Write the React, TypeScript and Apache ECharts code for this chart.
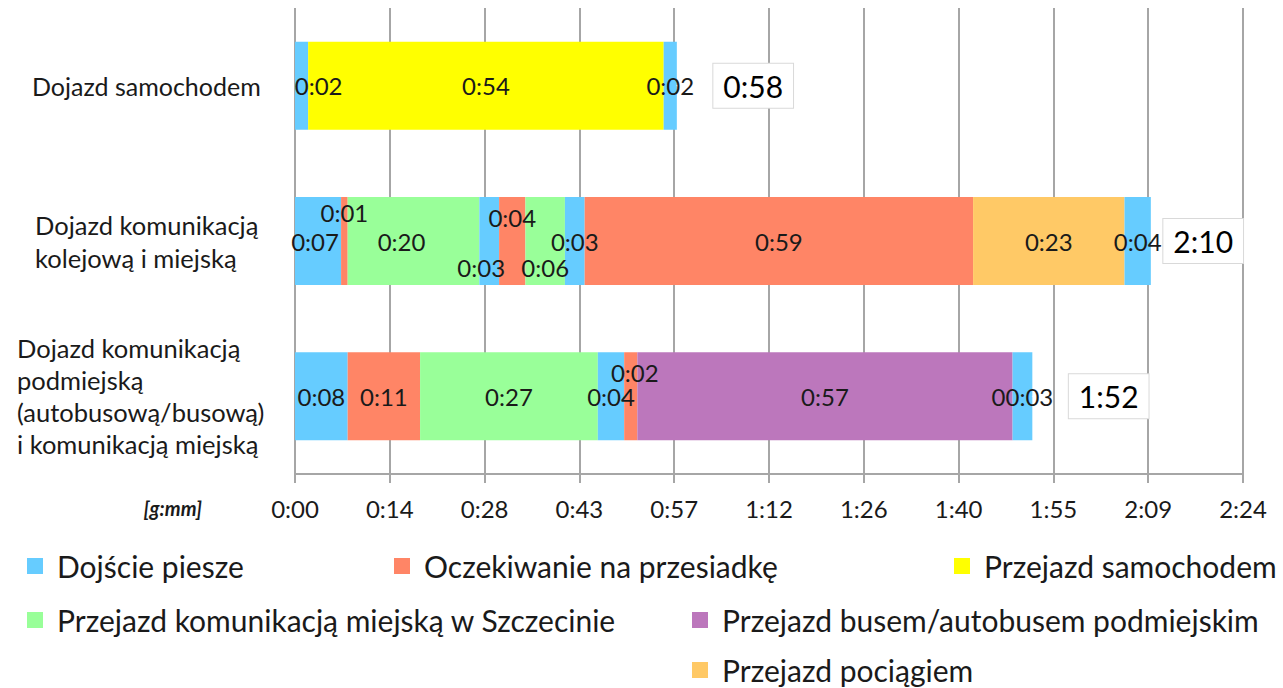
import React, { useEffect, useRef } from "react";
import * as echarts from "echarts";

// ---- data ----
const categories = [
  "Dojazd samochodem",
  "Dojazd komunikacją\nkolejową i miejską",
  "Dojazd komunikacją\npodmiejską\n(autobusową/busową)\ni komunikacją miejską",
];

const modeNames = [
  "Dojście piesze",
  "Oczekiwanie na przesiadkę",
  "Przejazd samochodem",
  "Przejazd komunikacją miejską w Szczecinie",
  "Przejazd busem/autobusem podmiejskim",
  "Przejazd pociągiem",
];

// segment mode indexes and minutes, per row
const carModes = [0, 2, 0];
const carMinutes = [2, 54, 2];
const railModes = [0, 1, 3, 0, 1, 3, 0, 1, 5, 0];
const railMinutes = [7, 1, 20, 3, 4, 6, 3, 59, 23, 4];
const suburbanModes = [0, 1, 3, 0, 1, 4, 0];
const suburbanMinutes = [8, 11, 27, 4, 2, 57, 3];
// label text that differs from the plain h:mm format (row, segment)
const labelOverrides: Record<string, string> = { "2-6": "00:03" };

const axisMax = 144; // 2:24
const axisInterval = 14.4;
const axisUnit = "[g:mm]";

// ---- styles ----
const modeColors = ["#66CCFF", "#FF8566", "#FFFF00", "#99FF99", "#BC77BC", "#FFC966"];
const carLabelOffsets = [[17, 0], [0, 0], [0, 0]];
const railLabelOffsets = [[-3, 0], [0, -29], [-12, 0], [-8, 26], [0, -24], [0, 26], [0, 0], [0, 0], [0, 0], [0, 0]];
const suburbanLabelOffsets = [[0, 0], [0, 0], [0, 0], [0, 0], [4, -24], [0, 0], [0, 0]];
const totalDistances = [36, 12, 36];

const FONT = "Lato";
const TEXT = "#1a1a1a";
const GRID = "#a6a6a6";

function fmt(v: number): string {
  const m = Math.floor(v + 1e-6);
  return `${Math.floor(m / 60)}:${String(m % 60).padStart(2, "0")}`;
}

export default function App() {
  const ref = useRef<HTMLDivElement>(null);

  useEffect(() => {
    if (!ref.current) return;
    const chart = echarts.init(ref.current, null, { renderer: "svg" });

    const rows = [
      { modes: carModes, mins: carMinutes, offs: carLabelOffsets },
      { modes: railModes, mins: railMinutes, offs: railLabelOffsets },
      { modes: suburbanModes, mins: suburbanMinutes, offs: suburbanLabelOffsets },
    ];

    const series: any[] = [];
    rows.forEach((row, r) => {
      row.modes.forEach((mode, k) => {
        const val = row.mins[k];
        const override = labelOverrides[`${r}-${k}`];
        series.push({
          type: "bar",
          stack: "total",
          name: modeNames[mode],
          barWidth: 88,
          itemStyle: { color: modeColors[mode] },
          data: categories.map((_, j) => (j === r ? val : "-")),
          label: {
            show: true,
            position: "inside",
            offset: row.offs[k],
            formatter: () => override ?? fmt(val),
            fontFamily: FONT,
            fontSize: 24,
            color: TEXT,
          },
          emphasis: { disabled: true },
        });
      });
    });

    const totals = rows.map((row) => row.mins.reduce((a, b) => a + b, 0));
    series.push({
      type: "scatter",
      name: "Suma",
      symbolSize: 1,
      itemStyle: { color: "#ffffff" },
      data: totals.map((t, r) => ({
        value: [t, r],
        label: { distance: totalDistances[r] },
      })),
      label: {
        show: true,
        position: "right",
        formatter: (p: any) => fmt(p.value[0]),
        fontFamily: FONT,
        fontSize: 30,
        lineHeight: 32,
        color: "#000000",
        opacity: 1,
        backgroundColor: "#fff",
        borderColor: "#d9d9d9",
        borderWidth: 1,
        padding: [6, 10, 6, 10],
      },
      emphasis: { disabled: true },
      z: 5,
    });

    const legendPos = [
      { name: modeNames[0], left: 27, top: 551 },
      { name: modeNames[1], left: 394, top: 551 },
      { name: modeNames[2], left: 954, top: 551 },
      { name: modeNames[3], left: 27, top: 605 },
      { name: modeNames[4], left: 692, top: 605 },
      { name: modeNames[5], left: 692, top: 655 },
    ];

    chart.setOption({
      animation: false,
      grid: { left: 295, right: 40, top: 8, bottom: 214, containLabel: false },
      xAxis: {
        type: "value",
        min: 0,
        max: axisMax,
        interval: axisInterval,
        axisLabel: {
          formatter: (v: number) => fmt(v),
          fontFamily: FONT,
          fontSize: 24,
          color: TEXT,
          margin: 22,
          showMaxLabel: true,
          showMinLabel: true,
        },
        axisLine: { show: true, lineStyle: { color: GRID, width: 2 } },
        axisTick: { show: true, length: 9, lineStyle: { color: GRID, width: 2 } },
        splitLine: { show: true, lineStyle: { color: GRID, width: 2 } },
      },
      yAxis: {
        type: "category",
        data: categories,
        inverse: true,
        axisLine: { show: false },
        axisTick: { show: false },
        splitLine: { show: false },
        axisLabel: {
          align: "left",
          margin: 278,
          formatter: (v: string, i: number) =>
            v.split("\n").map((l) => `{c${i}|${l}}`).join("\n"),
          rich: {
            c0: { fontFamily: FONT, fontSize: 25, lineHeight: 32, color: TEXT, padding: [0, 0, 0, 15] },
            c1: { fontFamily: FONT, fontSize: 25.5, lineHeight: 33, color: TEXT, padding: [0, 0, 0, 18] },
            c2: { fontFamily: FONT, fontSize: 25.5, lineHeight: 32, color: TEXT, padding: [0, 0, 0, 0] },
          },
        },
      },
      graphic: [
        {
          type: "text",
          x: 202,
          y: 508,
          style: {
            text: axisUnit,
            fontFamily: FONT,
            fontSize: 20,
            fontWeight: "bold",
            fontStyle: "italic",
            fill: TEXT,
            align: "right",
            verticalAlign: "middle",
          },
        },
      ],
      legend: legendPos.map((l) => ({
        data: [l.name],
        left: l.left,
        top: l.top,
        padding: 0,
        icon: "rect",
        itemWidth: 16,
        itemHeight: 16,
        selectedMode: false,
        textStyle: { fontFamily: FONT, fontSize: 30, color: TEXT, padding: [0, 0, 0, 9] },
      })),
      series,
    });

    return () => chart.dispose();
  }, []);

  return (
    <div
      ref={ref}
      style={{ position: "fixed", left: 0, top: 0, width: 1283, height: 688, background: "#fff" }}
    />
  );
}
